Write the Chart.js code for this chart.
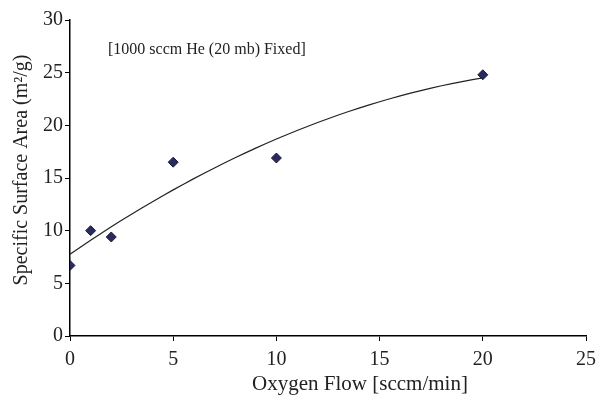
<!DOCTYPE html>
<html>
<head>
<meta charset="utf-8">
<script src="https://cdn.jsdelivr.net/npm/chart.js@4.4.0/dist/chart.umd.min.js"></script>
<style>
  html, body { margin: 0; padding: 0; background: #fff; }
  #wrap { width: 603px; height: 397px; }
</style>
</head>
<body>
<div id="wrap"><canvas id="myChart" width="603" height="397"></canvas></div>
<script>
// measured points
var oxygenFlow = [0, 1, 2, 5, 10, 20];
var surfaceArea = [6.7, 10.0, 9.4, 16.5, 16.9, 24.8];
var xTicks = [0, 5, 10, 15, 20, 25];
var yTicks = [0, 5, 10, 15, 20, 25, 30];
var note = "[1000 sccm He (20 mb) Fixed]";
var xTitle = "Oxygen Flow [sccm/min]";
var yTitle = "Specific Surface Area (m²/g)";

var serif = "'Liberation Serif', 'Times New Roman', serif";

// 2nd order polynomial trend line (least squares), like Excel's
function polyFit(xs, ys) {
  var s = [0, 0, 0, 0, 0], t = [0, 0, 0];
  for (var i = 0; i < xs.length; i++) {
    var p = 1;
    for (var k = 0; k < 5; k++) { s[k] += p; if (k < 3) t[k] += p * ys[i]; p *= xs[i]; }
  }
  var m = [[s[0], s[1], s[2], t[0]], [s[1], s[2], s[3], t[1]], [s[2], s[3], s[4], t[2]]];
  for (var c = 0; c < 3; c++) {
    for (var r = c + 1; r < 3; r++) {
      var f = m[r][c] / m[c][c];
      for (var j = c; j < 4; j++) m[r][j] -= f * m[c][j];
    }
  }
  var res = [0, 0, 0];
  for (var r = 2; r >= 0; r--) {
    var v = m[r][3];
    for (var j = r + 1; j < 3; j++) v -= m[r][j] * res[j];
    res[r] = v / m[r][r];
  }
  return res;
}

var coef = polyFit(oxygenFlow, surfaceArea);
var trend = [];
var xMax = oxygenFlow[oxygenFlow.length - 1];
for (var i = 0; i <= 40; i++) {
  var x = xMax * i / 40;
  trend.push({ x: x, y: coef[0] + coef[1] * x + coef[2] * x * x });
}

// note + axis titles (titles sit off-centre in the original)
var textPlugin = {
  id: "texts",
  afterDraw: function (chart) {
    var c = chart.ctx;
    c.save();
    c.fillStyle = "#222";
    c.textBaseline = "middle";
    c.font = "16px " + serif;
    c.fillText(note, chart.chartArea.left + 38, 50);

    c.textAlign = "center";
    c.font = "21px " + serif;
    c.fillText(xTitle, 360, 384);

    c.translate(22, 170);
    c.rotate(-Math.PI / 2);
    c.font = "20px " + serif;
    c.fillText(yTitle, 0, 0);
    c.restore();
  }
};

const ctx = document.getElementById("myChart");
new Chart(ctx, {
  type: "scatter",
  data: {
    datasets: [
      {
        label: "trend",
        type: "line",
        data: trend,
        borderColor: "#222",
        borderWidth: 1.2,
        pointRadius: 0,
        fill: false,
        order: 2,
      },
      {
        label: "Surface area",
        data: oxygenFlow.map((x, i) => ({ x: x, y: surfaceArea[i] })),
        pointStyle: "rectRot",
        pointRadius: 5,
        backgroundColor: "#2a2a5e",
        borderColor: "#1a1a3a",
        borderWidth: 1,
        order: 1,
      },
    ],
  },
  options: {
    responsive: false,
    animation: false,
    layout: { padding: { top: 20, right: 15, left: 0, bottom: 0 } },
    plugins: { legend: { display: false }, tooltip: { enabled: false } },
    scales: {
      x: {
        type: "linear",
        min: 0,
        max: 25,
        afterBuildTicks: (s) => { s.ticks = xTicks.map((v) => ({ value: v })); },
        afterFit: (s) => { s.height = 61; },
        border: { display: true, color: "#000", width: 1.5 },
        grid: { display: true, drawOnChartArea: false, drawTicks: true, tickLength: 5, color: "#000" },
        ticks: { color: "#222", font: { family: serif, size: 20 }, padding: 7, maxRotation: 0 },
      },
      y: {
        type: "linear",
        min: 0,
        max: 30,
        afterBuildTicks: (s) => { s.ticks = yTicks.map((v) => ({ value: v })); },
        afterFit: (s) => { s.width = 70; },
        border: { display: true, color: "#000", width: 1.5 },
        grid: { display: true, drawOnChartArea: false, drawTicks: true, tickLength: 5, color: "#000" },
        ticks: { color: "#222", font: { family: serif, size: 20 }, padding: 2 },
      },
    },
  },
  plugins: [textPlugin],
});
</script>
</body>
</html>
